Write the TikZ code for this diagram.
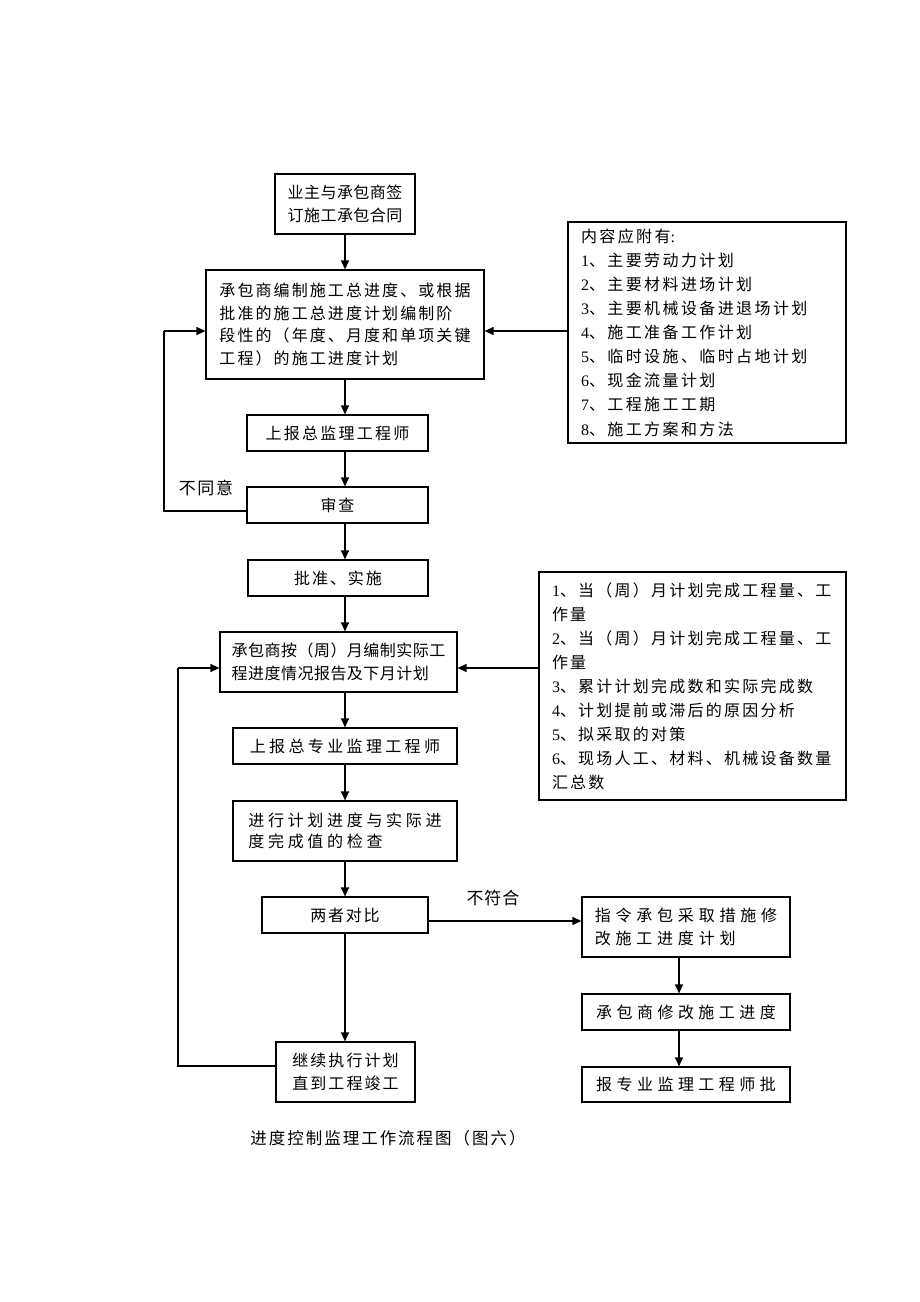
\documentclass[tikz,border=0pt]{standalone}
\usepackage{fontspec}
\setmainfont{Noto Sans CJK SC}
\newfontfamily\lser{Liberation Serif}
\usetikzlibrary{arrows.meta,calc}
\newcommand\bodyfont{\fontsize{16}{23.5}\selectfont}
\newcommand\LS[1]{\addfontfeatures{LetterSpace=#1}}
\tikzset{
  box/.style={draw, line width=1.2pt, inner sep=0pt, align=left},
  rbox/.style={box, inner xsep=13pt, text width=#1},
  arr/.style={line width=1.2pt, -{Triangle[length=9pt,width=8pt]}},
  ln/.style={line width=1.2pt},
  lab/.style={inner sep=0pt}
}
\begin{document}
\begin{tikzpicture}[x=1pt,y=-1pt]
\useasboundingbox (0,0) rectangle (920,1302);
% main column
\node[box, minimum width=140, minimum height=60, font={\bodyfont\LS{3}}] (b1) at (345,204) {业主与承包商签\\订施工承包合同};
\node[box, minimum width=278, minimum height=109, font={\fontsize{16}{22.7}\selectfont\LS{13}}] (b2) at (345,324.5) {承包商编制施工总进度、或根据\\批准的施工总进度计划编制阶\\段性的（年度、月度和单项关键\\工程）的施工进度计划};
\node[box, minimum width=181, minimum height=36, font={\bodyfont\LS{14}}] (b3) at (337.5,433) {上报总监理工程师};
\node[box, minimum width=181, minimum height=36, font={\bodyfont\LS{10}}] (b4) at (337.5,505) {审查};
\node[box, minimum width=180, minimum height=36, font={\bodyfont\LS{12}}] (b5) at (338,578) {批准、实施};
\node[box, minimum width=237, minimum height=60, font={\fontsize{16}{23}\selectfont\LS{3}}] (b6) at (338.5,662) {承包商按（周）月编制实际工\\程进度情况报告及下月计划};
\node[box, minimum width=224, minimum height=36, font={\bodyfont\LS{21}}] (b7) at (345,746) {上报总专业监理工程师};
\node[box, minimum width=224, minimum height=60, font={\fontsize{16}{21.5}\selectfont\LS{23}}] (b8) at (345,831) {进行计划进度与实际进\\度完成值的检查};
\node[box, minimum width=166, minimum height=36, font={\bodyfont\LS{11}}] (b9) at (345,915) {两者对比};
\node[box, minimum width=139, minimum height=60, font={\fontsize{16}{23}\selectfont\LS{13}}] (b10) at (345.5,1072) {继续执行计划\\直到工程竣工};
% right column
\node[box, minimum width=208, minimum height=60, font={\fontsize{16}{23}\selectfont\LS{30}}] (c1) at (686,927) {指令承包采取措施修\\改施工进度计划};
\node[box, minimum width=208, minimum height=36, font={\bodyfont\LS{28}}] (c2) at (686,1012) {承包商修改施工进度};
\node[box, minimum width=208, minimum height=35, font={\bodyfont\LS{28}}] (c3) at (686,1084.5) {报专业监理工程师批};
% side boxes
\node[rbox=252, minimum height=221, font={\fontsize{16}{24.1}\selectfont\LS{15}}] (r1) at (707,332.5) {内容应附有{\lser:}\\{\lser 1}、主要劳动力计划\\{\lser 2}、主要材料进场计划\\{\lser 3}、主要机械设备进退场计划\\{\lser 4}、施工准备工作计划\\{\lser 5}、临时设施、临时占地计划\\{\lser 6}、现金流量计划\\{\lser 7}、工程施工工期\\{\lser 8}、施工方案和方法};
\node[rbox=281, minimum height=228, font={\fontsize{16}{24}\selectfont\LS{14}}] (r2) at (692.5,686) {{\lser 1}、当（周）月计划完成工程量、工\\作量\\{\lser 2}、当（周）月计划完成工程量、工\\作量\\{\lser 3}、累计计划完成数和实际完成数\\{\lser 4}、计划提前或滞后的原因分析\\{\lser 5}、拟采取的对策\\{\lser 6}、现场人工、材料、机械设备数量\\汇总数};
% labels
\node[lab, font={\fontsize{17}{20}\selectfont\LS{10}}] (l1) at (206,488) {不同意};
\node[lab, font={\fontsize{17}{20}\selectfont\LS{5}}] (l2) at (493,898) {不符合};
\node[lab, font={\fontsize{16.5}{20}\selectfont\LS{12}}] (cap) at (388,1138) {进度控制监理工作流程图（图六）};
% connectors
\coordinate (fb1) at (164,331);
\coordinate (fb2) at (178,668);
\draw[arr] (b1.south) -- (b2.north);
\draw[arr] (b2.south) -- (b2.south |- b3.north);
\draw[arr] (b3.south -| b2.south) -- (b4.north -| b2.south);
\draw[arr] (b4.south -| b2.south) -- (b5.north -| b2.south);
\draw[arr] (b5.south -| b2.south) -- (b6.north -| b2.south);
\draw[arr] (b6.south -| b7.south) -- (b7.north);
\draw[arr] (b7.south) -- (b8.north);
\draw[arr] (b8.south) -- (b9.north);
\draw[arr] (b9.south) -- (b9.south |- b10.north);
\draw[ln] ([yshift=-6pt]b4.west) -| (fb1);
\draw[arr] (fb1) -- (fb1 -| b2.west);
\draw[arr] (r1.west |- fb1) -- (fb1 -| b2.east);
\draw[ln] ([yshift=6pt]b10.west) -| (fb2);
\draw[arr] (fb2) -- (fb2 -| b6.west);
\draw[arr] (r2.west |- fb2) -- (fb2 -| b6.east);
\draw[arr] ([yshift=-6pt]b9.east) -- ([yshift=-6pt]b9.east -| c1.west);
\draw[arr] ([xshift=-7pt]c1.south) -- ([xshift=-7pt]c1.south |- c2.north);
\draw[arr] ([xshift=-7pt]c2.south) -- ([xshift=-7pt]c2.south |- c3.north);
\end{tikzpicture}
\end{document}
